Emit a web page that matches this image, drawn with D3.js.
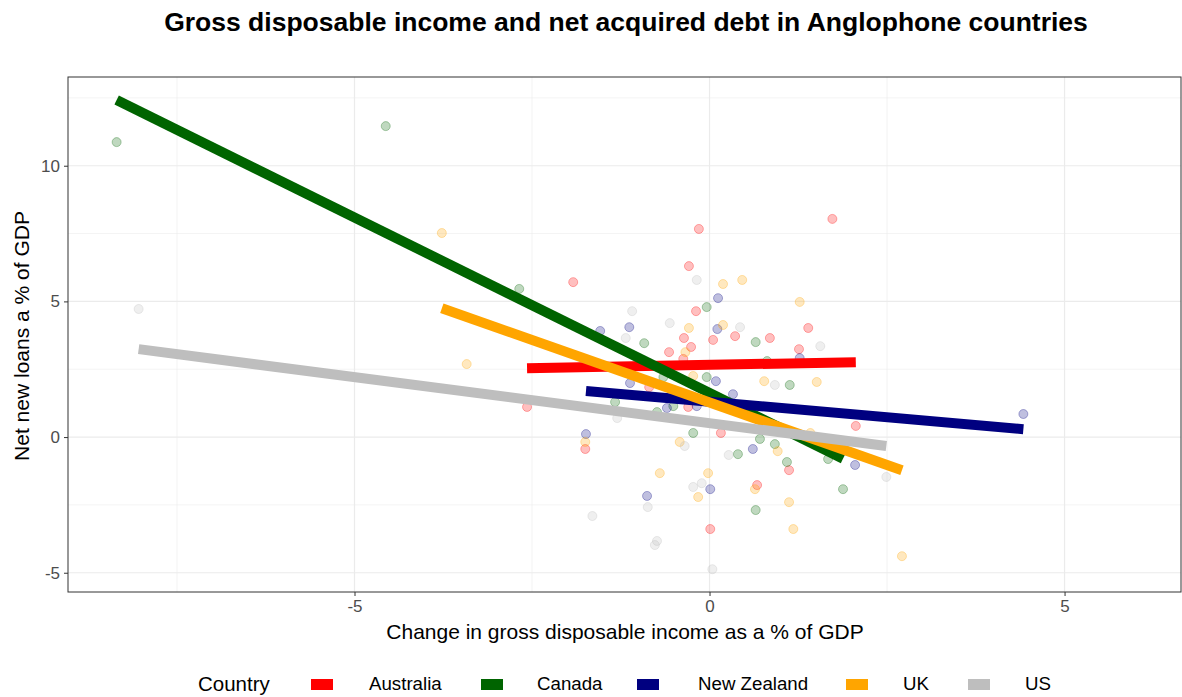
<!DOCTYPE html>
<html lang="en">
<head>
  <meta charset="UTF-8">
  <title>Gross disposable income and net acquired debt</title>
  <script src="https://cdnjs.cloudflare.com/ajax/libs/d3/7.8.5/d3.min.js"></script>
  <style>
    body { margin: 0; background: #fff; }
    svg text { font-family: "Liberation Sans", Arial, sans-serif; }
    .grid line { stroke: #ebebeb; }
    .tick text { fill: #4d4d4d; font-size: 17px; }
    .tick line { stroke: #333; }
  </style>
</head>
<body>
  <svg width="1182" height="697"></svg>
  <script>
    // countries and their colours
    const countries = ["Australia", "Canada", "New Zealand", "UK", "US"]
    const colors = ["#ff0000", "#006400", "#000080", "#ffa500", "#bebebe"]

    // [change in gross disposable income, net new loans] per country
    const australia = [
      [-2.57, 1.11], [-1.92, 5.71], [-0.29, 6.30], [-0.15, 7.67], [-0.19, 4.64],
      [-0.36, 3.65], [-0.26, 3.32], [-0.57, 3.13], [-0.37, 2.88], [-0.85, 1.84],
      [0.05, 3.58], [0.36, 3.72], [0.85, 3.65], [1.39, 4.02], [1.26, 3.24],
      [1.73, 8.04], [-0.30, 1.11], [0.16, 0.15], [-1.75, -0.44], [0.01, -3.39],
      [0.67, -1.77], [1.12, -1.22], [2.06, 0.41]
    ]
    const canada = [
      [-8.35, 10.87], [-4.56, 11.46], [-2.68, 5.46], [-0.92, 3.46], [-0.04, 4.79],
      [-0.65, 2.21], [0.65, 3.50], [1.13, 1.92], [0.81, 2.80], [-0.04, 2.21],
      [-1.33, 1.29], [-0.51, 1.14], [-0.74, 0.92], [-0.23, 0.15], [0.40, -0.63],
      [0.71, -0.07], [0.92, -0.26], [1.09, -0.92], [1.67, -0.81], [0.65, -2.69],
      [1.88, -1.92]
    ]
    const newZealand = [
      [-1.54, 3.91], [-1.13, 4.05], [-1.12, 1.99], [0.12, 5.12], [0.11, 3.98],
      [1.27, 2.91], [0.09, 2.06], [0.33, 1.58], [-0.60, 1.07], [-0.18, 1.14],
      [-1.74, 0.11], [0.61, -0.44], [2.05, -1.03], [4.42, 0.85], [0.01, -1.92],
      [-0.88, -2.17]
    ]
    const uk = [
      [-3.77, 7.52], [-3.42, 2.69], [-0.29, 4.02], [-0.34, 3.13], [-0.23, 2.25],
      [0.19, 5.64], [0.46, 5.79], [1.27, 4.98], [0.19, 4.13], [0.77, 2.06],
      [1.51, 2.03], [-1.75, -0.18], [-0.42, -0.18], [-0.70, -1.33], [-0.02, -1.33],
      [-0.16, -2.21], [0.96, -0.52], [0.64, -1.92], [1.12, -2.40], [1.18, -3.39],
      [2.71, -4.39], [1.42, 0.15]
    ]
    const us = [
      [-8.04, 4.72], [-0.18, 5.79], [-1.09, 4.64], [-0.56, 4.20], [-1.18, 3.65],
      [0.43, 4.05], [1.56, 3.35], [0.92, 1.92], [-1.30, 0.70], [-0.35, -0.33],
      [0.27, -0.66], [2.49, -1.47], [-0.23, -1.84], [-0.11, -1.70], [-0.87, -2.58],
      [-1.65, -2.91], [-0.74, -3.83], [-0.77, -3.98], [0.04, -4.87]
    ]
    const points = [australia, canada, newZealand, uk, us]

    // linear fit per country: [x start, y start, x end, y end]
    const fits = [
      [-2.57, 2.54, 2.06, 2.76],
      [-8.35, 12.42, 1.88, -0.80],
      [-1.74, 1.70, 4.42, 0.29],
      [-3.77, 4.75, 2.71, -1.22],
      [-8.04, 3.24, 2.49, -0.33]
    ]

    const xTicks = [-5, 0, 5]
    const yTicks = [-5, 0, 5, 10]
    const xMinor = [-7.5, -2.5, 2.5]
    const yMinor = [-2.5, 2.5, 7.5, 12.5]

    const svg = d3.select("svg")
    const m = { left: 68, top: 77, right: 1181, bottom: 592 }

    const x = d3.scaleLinear().domain([-9.035, 6.64]).range([m.left, m.right])
    const y = d3.scaleLinear().domain([-5.71, 13.27]).range([m.bottom, m.top])

    // grid
    const grid = svg.append("g").attr("class", "grid")
    grid.selectAll(".vmin").data(xMinor).join("line")
      .attr("x1", d => x(d)).attr("x2", d => x(d))
      .attr("y1", m.top).attr("y2", m.bottom).attr("stroke-width", 0.6)
    grid.selectAll(".hmin").data(yMinor).join("line").attr("class", "hmin")
      .attr("x1", m.left).attr("x2", m.right)
      .attr("y1", d => y(d)).attr("y2", d => y(d)).attr("stroke-width", 0.6)
    grid.selectAll(".vmaj").data(xTicks).join("line").attr("class", "vmaj")
      .attr("x1", d => x(d)).attr("x2", d => x(d))
      .attr("y1", m.top).attr("y2", m.bottom).attr("stroke-width", 1.2)
    grid.selectAll(".hmaj").data(yTicks).join("line").attr("class", "hmaj")
      .attr("x1", m.left).attr("x2", m.right)
      .attr("y1", d => y(d)).attr("y2", d => y(d)).attr("stroke-width", 1.2)

    // points
    points.forEach((pts, i) => {
      svg.append("g").selectAll("circle").data(pts).join("circle")
        .attr("cx", d => x(d[0]))
        .attr("cy", d => y(d[1]))
        .attr("r", 4.5)
        .attr("fill", colors[i])
        .attr("fill-opacity", 0.25)
        .attr("stroke", colors[i])
        .attr("stroke-opacity", 0.3)
    })

    // fit lines
    svg.append("g").selectAll("line").data(fits).join("line")
      .attr("x1", d => x(d[0])).attr("y1", d => y(d[1]))
      .attr("x2", d => x(d[2])).attr("y2", d => y(d[3]))
      .attr("stroke", (d, i) => colors[i])
      .attr("stroke-width", 10)

    // panel border
    svg.append("rect")
      .attr("x", m.left).attr("y", m.top)
      .attr("width", m.right - m.left).attr("height", m.bottom - m.top)
      .attr("fill", "none").attr("stroke", "#333").attr("stroke-width", 1)

    // axes
    svg.append("g").attr("transform", `translate(0,${m.bottom})`)
      .call(d3.axisBottom(x).tickValues(xTicks).tickFormat(d => String(d)).tickSize(4).tickPadding(4))
      .call(g => g.select(".domain").remove())
    svg.append("g").attr("transform", `translate(${m.left},0)`)
      .call(d3.axisLeft(y).tickValues(yTicks).tickFormat(d => String(d)).tickSize(4).tickPadding(4))
      .call(g => g.select(".domain").remove())

    // titles
    svg.append("text").attr("x", 626).attr("y", 31)
      .attr("text-anchor", "middle").attr("font-weight", "bold").attr("font-size", 26.5)
      .text("Gross disposable income and net acquired debt in Anglophone countries")
    svg.append("text").attr("x", 625).attr("y", 639)
      .attr("text-anchor", "middle").attr("font-size", 21).attr("fill", "#000")
      .text("Change in gross disposable income as a % of GDP")
    svg.append("text").attr("transform", "translate(29,336) rotate(-90)")
      .attr("text-anchor", "middle").attr("font-size", 21)
      .text("Net new loans a % of GDP")

    // legend
    const legendX = [311, 481, 637, 846, 968]
    const legendTextX = [369, 537, 698, 903, 1025]
    const lg = svg.append("g")
    lg.append("text").attr("x", 198).attr("y", 691).attr("font-size", 20.5).text("Country")
    countries.forEach((c, i) => {
      lg.append("rect").attr("x", legendX[i]).attr("y", 679)
        .attr("width", 22).attr("height", 11).attr("fill", colors[i])
      lg.append("text").attr("x", legendTextX[i]).attr("y", 690)
        .attr("font-size", 18.7).text(c)
    })
  </script>
</body>
</html>
